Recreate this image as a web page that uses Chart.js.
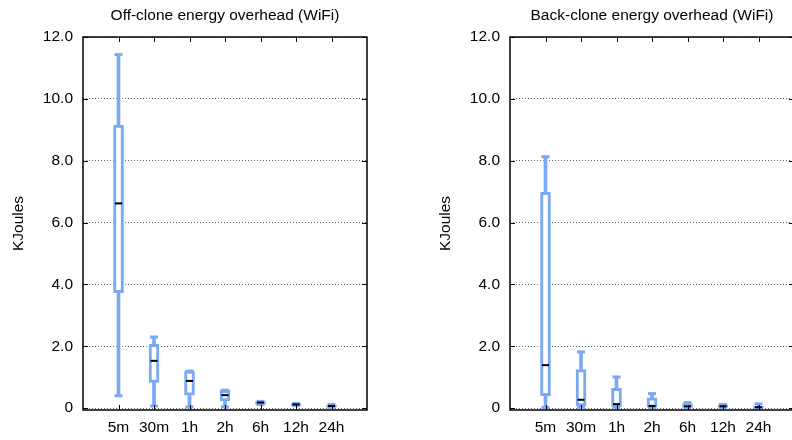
<!DOCTYPE html>
<html>
<head>
<meta charset="utf-8">
<script src="https://cdn.jsdelivr.net/npm/chart.js@4/dist/chart.umd.min.js"></script>
<style>
  html, body { margin: 0; padding: 0; background: #fff; }
  body { width: 792px; height: 440px; overflow: hidden; position: relative; }
  .box { position: absolute; top: 0; width: 400px; height: 440px; }
</style>
</head>
<body>
<div class="box" style="left:0"><canvas id="offChart" width="400" height="440"></canvas></div>
<div class="box" style="left:427px"><canvas id="backChart" width="400" height="440"></canvas></div>
<script>
var categories = ["5m", "30m", "1h", "2h", "6h", "12h", "24h"];
var yTicks = [0, 2, 4, 6, 8, 10, 12];

// Off-clone (WiFi)
var offMin    = [0.40, 0.07, 0.04, 0.04, 0.12, 0.08, 0.03];
var offQ1     = [3.73, 0.83, 0.42, 0.23, 0.12, 0.08, 0.03];
var offMedian = [6.62, 1.53, 0.88, 0.42, 0.18, 0.12, 0.07];
var offQ3     = [9.15, 2.06, 1.20, 0.58, 0.22, 0.15, 0.10];
var offMax    = [11.43, 2.30, 1.20, 0.58, 0.22, 0.15, 0.12];

// Back-clone (WiFi)
var backMin    = [0.02, 0.03, 0.03, 0.02, 0.02, 0.02, 0.01];
var backQ1     = [0.40, 0.07, 0.05, 0.03, 0.02, 0.02, 0.01];
var backMedian = [1.39, 0.27, 0.13, 0.07, 0.06, 0.06, 0.03];
var backQ3     = [6.98, 1.25, 0.64, 0.33, 0.15, 0.11, 0.07];
var backMax    = [8.13, 1.82, 1.01, 0.47, 0.18, 0.12, 0.14];

var blue = "#7aa9f4";
var font = "'Liberation Sans', Arial, sans-serif";
var fs = 15.5;

function pad(arr) { return [null].concat(arr, [null]); }

// frame + inside tick marks
var framePlugin = {
  id: "frame",
  afterDraw: function(chart) {
    var c = chart.ctx, a = chart.chartArea;
    var x = chart.scales.x, y = chart.scales.y;
    c.save();
    c.strokeStyle = "#000";
    c.lineWidth = 1;
    for (var i = 1; i <= categories.length; i++) {
      var px = Math.round(x.getPixelForValue(i)) + 0.5;
      c.beginPath();
      c.moveTo(px, a.top); c.lineTo(px, a.top + 5);
      c.moveTo(px, a.bottom); c.lineTo(px, a.bottom - 5);
      c.stroke();
    }
    yTicks.forEach(function(v) {
      var py = Math.round(y.getPixelForValue(v)) + 0.5;
      c.beginPath();
      c.moveTo(a.left, py); c.lineTo(a.left + 5, py);
      c.moveTo(a.right, py); c.lineTo(a.right - 5, py);
      c.stroke();
    });
    c.lineWidth = 1.5;
    c.strokeRect(a.left, a.top, a.right - a.left, a.bottom - a.top);
    c.restore();
  }
};

function makeChart(id, title, mins, q1, med, q3, maxs) {
  var labels = [""].concat(categories, [""]);
  var whisk = pad(mins.map(function(v, i) { return [v, maxs[i]]; }));
  var boxes = pad(q1.map(function(v, i) { return [v, q3[i]]; }));
  return new Chart(document.getElementById(id), {
    type: "bar",
    data: {
      labels: labels,
      datasets: [
        { data: whisk, backgroundColor: blue, borderWidth: 0, barThickness: 3, grouped: false, order: 4 },
        { data: boxes, backgroundColor: "#fff", borderColor: blue, borderWidth: 3, borderSkipped: false,
          barThickness: 10, grouped: false, order: 3 },
        { type: "line", data: pad(mins), showLine: false, pointStyle: "line", pointRadius: 4,
          pointBorderWidth: 3, borderColor: blue, order: 2 },
        { type: "line", data: pad(maxs), showLine: false, pointStyle: "line", pointRadius: 4,
          pointBorderWidth: 3, borderColor: blue, order: 2 },
        { type: "line", data: pad(med), showLine: false, pointStyle: "line", pointRadius: 3.5,
          pointBorderWidth: 2, borderColor: "#000", order: 1 }
      ]
    },
    options: {
      responsive: false,
      animation: false,
      layout: { padding: { left: 0, right: 33, top: 0, bottom: 0 } },
      plugins: {
        legend: { display: false },
        tooltip: { enabled: false },
        title: {
          display: true, text: title, color: "#000", fullSize: false,
          font: { family: font, size: fs, weight: "normal" },
          padding: { top: 6, bottom: 12.4 }
        }
      },
      scales: {
        x: {
          type: "category",
          offset: false,
          grid: { display: false, drawTicks: false },
          border: { display: false },
          ticks: { color: "#000", font: { family: font, size: fs }, padding: 8, autoSkip: false, maxRotation: 0 },
          afterFit: function(s) { s.height = 30; }
        },
        y: {
          min: -0.06, max: 12,
          afterBuildTicks: function(s) { s.ticks = yTicks.map(function(v) { return { value: v }; }); },
          grid: { color: "#666", lineWidth: 1, drawTicks: false },
          border: { display: false, dash: [1, 2] },
          ticks: {
            color: "#000", font: { family: font, size: fs }, padding: 10,
            callback: function(v) { return v === 0 ? "0" : v.toFixed(1); }
          },
          title: { display: true, text: "KJoules", color: "#000", font: { family: font, size: fs }, padding: { top: 9, bottom: 0 } },
          afterFit: function(s) { s.width = 83; }
        }
      }
    },
    plugins: [framePlugin]
  });
}

makeChart("offChart", "Off-clone energy overhead (WiFi)", offMin, offQ1, offMedian, offQ3, offMax);
makeChart("backChart", "Back-clone energy overhead (WiFi)", backMin, backQ1, backMedian, backQ3, backMax);
</script>
</body>
</html>
